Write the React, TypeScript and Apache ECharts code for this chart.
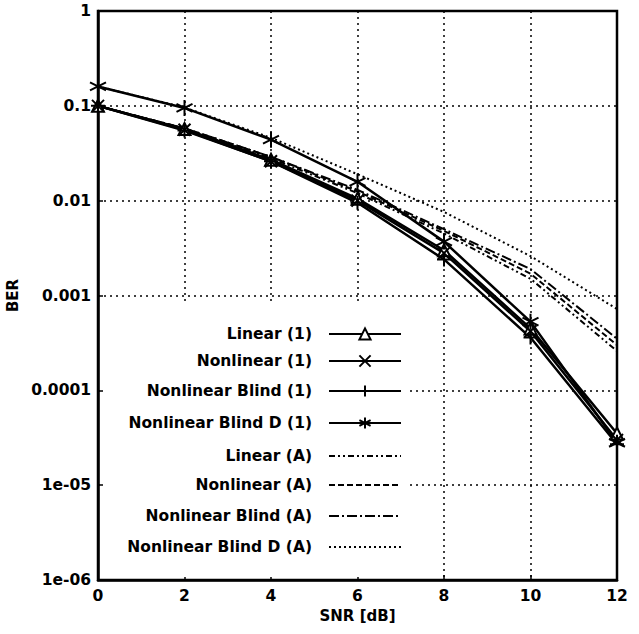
import React, { useEffect, useRef } from "react";
import * as echarts from "echarts";

const snr = [0, 2, 4, 6, 8, 10, 12];
const xTicks = [0, 2, 4, 6, 8, 10, 12];
const yTickLabels = ["1", "0.1", "0.01", "0.001", "0.0001", "1e-05", "1e-06"];

const linear1 = [0.1, 0.057, 0.027, 0.0105, 0.003, 0.00045, 3.5e-5];
const nonlinear1 = [0.1, 0.056, 0.026, 0.01, 0.0028, 0.00042, 3.0e-5];
const nonlinearBlind1 = [0.1, 0.055, 0.026, 0.0095, 0.0024, 0.00036, 2.7e-5];
const nonlinearBlindD1 = [0.16, 0.095, 0.044, 0.0158, 0.0037, 0.00053, 2.8e-5];
const linearA = [0.1, 0.057, 0.028, 0.012, 0.0045, 0.0015, 0.00026];
const nonlinearA = [0.1, 0.058, 0.029, 0.0125, 0.0048, 0.0017, 0.0003];
const nonlinearBlindA = [0.1, 0.058, 0.029, 0.013, 0.005, 0.0019, 0.00035];
const nonlinearBlindDA = [0.16, 0.096, 0.046, 0.019, 0.0076, 0.0026, 0.00072];

const names = [
  "Linear (1)",
  "Nonlinear (1)",
  "Nonlinear Blind (1)",
  "Nonlinear Blind D (1)",
  "Linear (A)",
  "Nonlinear (A)",
  "Nonlinear Blind (A)",
  "Nonlinear Blind D (A)",
];

const FONT = "'DejaVu Sans', Arial, sans-serif";

export default function App() {
  const ref = useRef<HTMLDivElement>(null);
  useEffect(() => {
    if (!ref.current) return;
    const chart = echarts.init(ref.current, undefined, { renderer: "svg" });
    const mk = (vals: number[]) => snr.map((x, i) => [x, vals[i]]);
    const solid = (name: string, vals: number[], symbol: string, size: number, fill: string) => ({
      name,
      type: "line",
      data: mk(vals),
      symbol,
      symbolSize: size,
      showSymbol: true,
      lineStyle: { color: "#000", width: 2.5, type: "solid" },
      itemStyle: { color: fill, borderColor: "#000", borderWidth: 2 },
      z: 5,
    });
    const dashed = (name: string, vals: number[], dash: number[]) => ({
      name,
      type: "line",
      data: mk(vals),
      symbol: "none",
      showSymbol: false,
      lineStyle: { color: "#000", width: 2, type: dash },
      itemStyle: { color: "#000" },
      z: 4,
    });
    const series = [
      solid(names[0], linear1, "triangle", 12, "#fff"),
      solid(names[1], nonlinear1, "path://M0,0L10,10M10,0L0,10", 12, "#000"),
      solid(names[2], nonlinearBlind1, "path://M5,0L5,10M0,5L10,5", 14, "#000"),
      solid(names[3], nonlinearBlindD1, "path://M5,0L5,10M0.67,2.5L9.33,7.5M0.67,7.5L9.33,2.5", 16, "#000"),
      dashed(names[4], linearA, [6, 3, 2, 3, 2, 3]),
      dashed(names[5], nonlinearA, [6, 3]),
      dashed(names[6], nonlinearBlindA, [10, 3, 2, 3]),
      dashed(names[7], nonlinearBlindDA, [2, 3]),
    ];
    const legendCenters = [335, 362, 392, 424, 457, 486, 517, 548];
    const legends = names.map((n, i) => {
      const l: any = {
        data: [n],
        right: 237,
        top: legendCenters[i] - 9,
        align: "right",
        padding: 0,
        itemWidth: 72,
        itemHeight: 14,
        selectedMode: false,
        z: 6,
        textStyle: {
          fontFamily: FONT,
          fontWeight: "bold",
          fontSize: 15.5,
          color: "#000",
          padding: [0, 12, 0, 0],
        },
      };
      if (i >= 4) l.itemStyle = { opacity: 0 };
      return l;
    });
    chart.setOption({
      animation: false,
      backgroundColor: "#fff",
      grid: {
        left: 98,
        right: 22,
        top: 11,
        bottom: 54,
        outerBoundsMode: "none",
        containLabel: false,
        show: true,
        borderColor: "#000",
        borderWidth: 2.5,
      },
      graphic: [
        {
          type: "rect",
          z: 1,
          shape: { x: 104, y: 305, width: 306, height: 272 },
          style: { fill: "#fff" },
          silent: true,
        },
      ],
      legend: legends,
      xAxis: {
        type: "value",
        min: 0,
        max: 12,
        interval: 2,
        name: "SNR [dB]",
        nameLocation: "middle",
        nameGap: 20,
        nameTextStyle: { fontFamily: FONT, fontWeight: "bold", fontSize: 15, color: "#000" },
        axisLine: { lineStyle: { color: "#000", width: 2.5 } },
        axisTick: { inside: true, length: 5, lineStyle: { color: "#000", width: 1.5 } },
        axisLabel: {
          fontFamily: FONT,
          fontWeight: "bold",
          fontSize: 15.5,
          color: "#000",
          margin: 8,
          formatter: (v: number) => (xTicks.includes(v) ? String(v) : ""),
        },
        splitLine: { show: true, lineStyle: { color: "#000", width: 1.5, type: [2, 4] } },
      },
      yAxis: {
        type: "log",
        logBase: 10,
        min: 1e-6,
        max: 1,
        name: "BER",
        nameLocation: "middle",
        nameGap: 78,
        nameTextStyle: { fontFamily: FONT, fontWeight: "bold", fontSize: 15, color: "#000" },
        axisLine: { lineStyle: { color: "#000", width: 2.5 } },
        axisTick: { inside: true, length: 5, lineStyle: { color: "#000", width: 1.5 } },
        axisLabel: {
          fontFamily: FONT,
          fontWeight: "bold",
          fontSize: 15.5,
          color: "#000",
          margin: 7,
          formatter: (v: number) => {
            const k = Math.round(-Math.log10(v));
            return yTickLabels[k] ?? "";
          },
        },
        splitLine: { show: true, lineStyle: { color: "#000", width: 1.5, type: [2, 4] } },
      },
      series,
    });
    return () => chart.dispose();
  }, []);
  return <div ref={ref} style={{ width: 639, height: 634, position: "absolute", left: 0, top: 0 }} />;
}
